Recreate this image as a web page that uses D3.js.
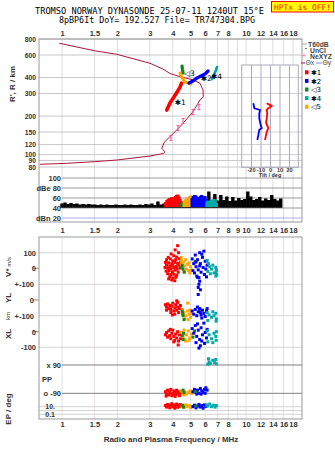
<!DOCTYPE html>
<html><head><meta charset="utf-8">
<script src="https://cdn.jsdelivr.net/npm/d3@7/dist/d3.min.js"></script>
<style>
body{margin:0;background:#fff;}
svg text{font-family:"Liberation Sans",Arial,sans-serif;}
</style></head>
<body><svg id="chart" width="335" height="451"></svg>
<script>
// ---------------- data ----------------
const titleLine1 = "TROMSO NORWAY   DYNASONDE 25-07-11 1240UT 15°E";
const titleLine2 = "8pBP6It DoY= 192.527 File= TR747304.BPG";
const statusText = "HPTx is OFF!";
const freqTicksTop = [1,1.5,2,3,4,5,6,7,8,10,12,14,16,18];
const freqTicksMid = [1,1.5,2,3,4,5,6,7,8,9,10,12,14,16,18];
const freqGrid = [1,1.5,2,3,4,5,6,7,8,9,10,12,14,16,18];
const heightTicks = [800,600,400,300,200,150,120,100,90,80];
const dbTicks = [100,80,60,40,20];
const tiltTicks = [-20,-10,0,10,20];
const modeNames = ["✱1","✱2","◁3","✱4","◁5"];
const modeColors = ["#ff0000","#0000ff","#15861c","#00a8a8","#ffa500"];
const legendNames = ["T60dB","UnCl","NeXYZ"];

// profile curve [MHz, km]
const profile = [[0.967,741],[1.498,648],[1.983,608],[3.008,517],[3.539,466],[3.864,430],[4.378,406],[5.171,383],[5.623,361],[5.838,320],[5.860,283],[5.623,267],[5.152,216],[4.378,165],[3.864,138],[3.583,124],[3.552,119],[3.482,112],[3.629,105],[3.552,102],[3.008,97.5],[1.983,90.7],[1.498,88],[1.061,85.5],[0.759,84]];
const neMarkers = [[5.55,235],[5.15,215],[4.55,183],[4.27,161],[3.91,135]];

// echo traces [MHz, km] per mode 1..5
const trace1 = [[3.71,223],[3.86,253],[4.06,282],[4.22,308],[4.38,337],[4.46,362]];
const trace2 = [[4.90,362],[5.15,376],[5.42,397],[5.69,411],[5.99,426],[6.22,450]];
const trace3 = [[4.49,492],[4.52,458],[4.55,434]];
const trace4 = [[6.53,389],[6.70,419],[6.87,458],[6.96,483]];
const trace5 = [[4.38,434],[4.49,397],[4.66,369],[5.02,356]];
const traceLabels = [[1,4.10,246],[2,5.68,378],[3,4.62,410],[4,6.46,389]];

// tilt [deg, km]
const tiltX = [[-18.1,252],[-17,230],[-11,223],[-11.8,210],[-11.8,191],[-10.3,170],[-9.3,161],[-11.8,156],[-12.8,142],[-13.9,130]];
const tiltO = [[-4,252],[-2.3,248],[1.3,240],[-2.3,230],[-4,223],[-3.4,210],[-4,191],[-4.7,178],[-2.3,161],[-4,150],[-4.7,142],[-5.8,130]];

// amplitude panel [MHz, dB]
const noise = [[1.000,49],[1.038,51],[1.078,48],[1.119,50],[1.162,48],[1.206,49],[1.252,47],[1.300,48],[1.350,47],[1.401,48],[1.455,47],[1.511,47],[1.568,46],[1.628,47],[1.691,46],[1.755,47],[1.822,46],[1.892,46],[1.964,47],[2.039,46],[2.117,46],[2.198,47],[2.282,46],[2.369,47],[2.460,46],[2.554,46],[2.651,47],[2.753,46],[2.858,48],[2.967,47],[3.081,49],[3.198,46],[3.321,53],[3.448,47],[3.579,49],[3.716,52],[3.858,50],[4.006,53],[4.159,51],[4.318,52],[4.482,50],[4.654,53],[4.831,51],[5.016,55],[5.208,52],[5.407,56],[5.613,54],[5.828,58],[6.050,55],[6.282,73],[6.522,56],[6.771,68],[7.029,55],[7.298,66],[7.577,56],[7.866,63],[8.167,54],[8.479,62],[8.803,55],[9.139,60],[9.488,56],[9.850,58],[10.23,73],[10.62,63],[11.02,56],[11.44,58],[11.88,62],[12.33,55],[12.80,59],[13.29,56],[13.80,66],[14.33,58],[14.88,55],[15.44,59]];
// echo amplitudes [mode, MHz, dB]
const echoAmp = [[1,3.66,52],[1,3.72,56],[1,3.78,58],[1,3.84,60],[1,3.90,57],[1,3.96,62],[1,4.02,60],[1,4.08,55],[1,4.14,64],[1,4.20,66],[1,4.26,67],[1,4.32,63],[1,4.38,58],[1,4.44,54],
 [3,4.47,50],[3,4.52,53],[3,4.57,51],
 [5,4.62,55],[5,4.68,57],[5,4.74,59],[5,4.80,60],[5,4.86,61],[5,4.92,63],[5,4.98,65],[5,5.04,62],
 [2,5.10,60],[2,5.18,64],[2,5.26,66],[2,5.34,65],[2,5.42,62],[2,5.50,58],[2,5.58,61],[2,5.66,64],[2,5.74,66],[2,5.82,63],[2,5.90,60],[2,5.98,64],[2,6.06,58],
 [4,6.14,52],[4,6.22,55],[4,6.30,50],[4,6.40,54],[4,6.50,57],[4,6.60,56],[4,6.70,58],[4,6.80,55],[4,6.90,50]];

// lower panels [mode, MHz, value]
const vStar = [[1,4.25,145],[1,4.12,118],[1,4.30,100],[1,3.92,92],[1,4.05,80],[1,3.78,70],[1,4.20,72],[1,3.70,55],[1,3.88,60],[1,4.00,48],[1,4.15,55],[1,4.35,62],[1,3.65,38],[1,3.80,35],[1,3.95,30],[1,4.10,38],[1,4.25,32],[1,4.40,40],[1,3.70,20],[1,3.85,15],[1,4.00,18],[1,4.18,12],[1,4.32,20],[1,3.63,5],[1,3.76,0],[1,3.90,-2],[1,4.05,4],[1,4.22,-5],[1,4.38,2],[1,3.68,-18],[1,3.82,-15],[1,3.98,-22],[1,4.12,-12],[1,4.28,-25],[1,3.75,-35],[1,3.90,-40],[1,4.05,-38],[1,4.20,-45],[1,3.85,-55],[1,4.00,-62],[1,4.15,-58],[1,3.95,-75],[1,4.10,-80],[1,3.80,-68],
 [5,4.45,70],[5,4.45,50],[5,4.45,30],[5,4.60,40],[5,4.70,55],[5,4.65,15],[5,4.80,25],[5,4.90,35],[5,5.00,10],[5,4.75,-5],[5,4.88,-15],[5,5.05,-10],[5,4.60,-20],[5,4.95,-30],
 [3,4.50,20],[3,4.55,-5],[3,4.48,5],[3,4.62,-25],[3,5.30,45],
 [2,5.10,60],[2,5.20,30],[2,5.30,85],[2,5.35,10],[2,5.45,55],[2,5.50,-10],[2,5.60,100],[2,5.65,30],[2,5.70,-25],[2,5.80,70],[2,5.85,5],[2,5.95,-40],[2,6.00,45],[2,6.05,-5],[2,6.15,20],[2,5.25,-30],[2,5.40,-50],[2,5.55,-60],[2,5.75,90],[2,6.10,-55],[2,5.90,110],[2,5.15,-15],[2,5.60,15],[2,5.35,40],
 [4,6.15,50],[4,6.25,30],[4,6.35,10],[4,6.50,-5],[4,6.20,-20],[4,6.40,-35],[4,6.60,20],[4,6.85,5],[4,6.90,-10],[4,6.88,-25],[4,6.92,-40],[4,6.86,-50],[4,6.70,-30]];
const yL = [[1,3.65,-30],[1,3.70,-45],[1,3.75,-25],[1,3.80,-55],[1,3.85,-35],[1,3.90,-60],[1,3.95,-40],[1,4.00,-20],[1,4.05,-70],[1,4.10,-50],[1,4.15,-30],[1,4.20,-65],[1,4.25,-45],[1,4.30,-80],[1,4.35,-55],[1,4.10,-90],[1,3.90,-80],[1,4.20,-5],[1,4.25,-15],[1,3.70,-65],[1,4.40,-35],[1,3.98,-95],
 [5,4.50,-60],[5,4.60,-80],[5,4.70,-100],[5,4.80,-70],[5,4.90,-90],[5,5.00,-110],[5,5.05,-85],[5,4.65,-120],[5,4.85,-125],[5,4.55,-95],[5,4.95,-65],[5,4.82,-20],
 [3,4.50,-70],[3,4.55,-100],[3,4.60,-125],[3,4.52,-85],[3,5.60,-60],
 [2,5.10,-70],[2,5.20,-90],[2,5.30,-60],[2,5.40,-100],[2,5.50,-75],[2,5.60,-55],[2,5.70,-95],[2,5.80,-65],[2,5.90,-85],[2,6.00,-105],[2,6.10,-70],[2,5.45,-45],[2,5.75,-115],[2,6.15,-55],[2,5.65,-80],
 [2,5.45,145],[2,5.60,120],[2,5.55,100],[2,5.50,80],[2,5.65,65],[2,5.50,35],
 [4,6.15,-80],[4,6.30,-95],[4,6.50,-110],[4,6.70,-100],[4,6.85,-85],[4,6.90,-120],[4,6.20,-130],[4,6.88,-135],[4,6.60,-75]];
const xL = [[1,3.65,-20],[1,3.70,-5],[1,3.75,-35],[1,3.80,5],[1,3.85,-25],[1,3.90,-45],[1,3.95,-10],[1,4.00,10],[1,4.05,-30],[1,4.10,-55],[1,4.15,-15],[1,4.20,-40],[1,4.25,0],[1,4.30,-60],[1,4.35,-20],[1,4.40,-45],[1,4.28,-85],[1,4.05,-65],[1,3.88,15],
 [5,4.45,-5],[5,4.55,-30],[5,4.65,-50],[5,4.75,-20],[5,4.85,5],[5,4.95,-40],[5,5.05,-15],[5,4.70,-60],[5,4.90,-55],[5,4.60,10],
 [3,4.50,-25],[3,4.55,-50],[3,4.58,-10],[3,5.15,-35],[3,5.25,5],
 [2,5.10,20],[2,5.20,-10],[2,5.30,40],[2,5.40,-30],[2,5.50,10],[2,5.60,-50],[2,5.70,25],[2,5.80,-20],[2,5.90,55],[2,6.00,-5],[2,6.10,-40],[2,5.35,-70],[2,5.65,-90],[2,5.95,-75],[2,5.45,50],[2,6.15,15],[2,5.55,-105],[2,5.75,-60],
 [4,6.15,5],[4,6.30,-20],[4,6.50,-45],[4,6.70,-10],[4,6.85,-30],[4,6.90,0],[4,6.20,-65],[4,6.88,-55],[4,6.60,-70]];
const pp = [[4,6.20,95],[4,6.30,110],[4,6.40,100],[4,6.60,120],[4,6.75,105],[4,6.85,125],[4,6.90,98],[4,6.25,130],
 [1,3.65,-80],[1,3.70,-95],[1,3.75,-70],[1,3.80,-100],[1,3.85,-85],[1,3.90,-65],[1,3.95,-105],[1,4.00,-90],[1,4.05,-75],[1,4.10,-100],[1,4.15,-85],[1,4.20,-70],[1,4.25,-95],[1,4.30,-80],[1,4.35,-105],[1,4.40,-88],[1,3.68,-108],[1,4.12,-110],
 [5,4.45,-75],[5,4.55,-90],[5,4.65,-80],[5,4.75,-95],[5,4.85,-85],[5,4.95,-75],[5,5.05,-90],[5,5.10,-80],[5,4.60,-100],
 [2,5.15,-80],[2,5.25,-65],[2,5.35,-85],[2,5.45,-70],[2,5.55,-90],[2,5.65,-60],[2,5.75,-75],[2,5.85,-85],[2,5.95,-65],[2,6.05,-55],[2,6.15,-70],[2,5.40,-95],[2,5.70,-95],[2,6.00,-90],
 [3,4.55,-70],[3,4.60,-85],[3,5.30,-80]];
const ep = [[1,3.65,20],[1,3.70,8],[1,3.75,40],[1,3.80,15],[1,3.85,5],[1,3.90,25],[1,3.95,60],[1,4.00,10],[1,4.05,30],[1,4.10,4],[1,4.15,18],[1,4.20,50],[1,4.25,7],[1,4.30,25],[1,4.35,12],[1,4.40,35],
 [5,4.50,15],[5,4.60,6],[5,4.70,30],[5,4.80,10],[5,4.90,20],[5,5.00,5],[5,5.08,12],
 [2,5.15,10],[2,5.25,25],[2,5.35,5],[2,5.45,15],[2,5.55,40],[2,5.65,8],[2,5.75,20],[2,5.85,4],[2,5.95,30],[2,6.05,12],
 [4,6.10,30],[4,6.20,15],[4,6.35,50],[4,6.50,10],[4,6.65,25],[4,6.80,8],[4,6.90,20],
 [3,4.52,25],[3,4.58,8],[3,5.35,15]];

// ---------------- drawing ----------------
const svg = d3.select("#chart");
svg.append("rect").attr("width",335).attr("height",451).attr("fill","#fff");
const L=39, R=302, T0=39, T1=222, B0=237, B1=419;

const x = d3.scaleLog().domain([1,10]).range([62,246]);
const yH = d3.scaleLog().domain([80,800]).range([167,39]);
const yDb = d3.scaleLinear().domain([20,100]).range([218,178]);
const yV = d3.scaleLinear().domain([-100,100]).range([283.9,252.7]);
const yYL = d3.scaleLinear().domain([-100,100]).range([315.7,284.3]);
const yXL = d3.scaleLinear().domain([-100,100]).range([347.3,316.1]);
const yPP = d3.scaleLinear().domain([-90,90]).range([393.3,365]);
const yEP = d3.scaleLog().domain([0.1,10]).range([414.3,406.7]);
const xT = d3.scaleLinear().domain([-20,20]).range([251.5,289.5]);
const col = m => modeColors[m-1];

// title
svg.append("text").attr("x",149.5).attr("y",14).attr("text-anchor","middle")
  .style("font-family","DejaVu Sans Mono").style("font-size","8px").attr("fill","#000")
  .attr("textLength",229).attr("lengthAdjust","spacingAndGlyphs").text(titleLine1);
svg.append("text").attr("x",157).attr("y",22.8).attr("text-anchor","middle")
  .style("font-family","DejaVu Sans Mono").style("font-size","8px").attr("fill","#000")
  .attr("textLength",196).attr("lengthAdjust","spacingAndGlyphs").text(titleLine2);
svg.append("rect").attr("x",271.5).attr("y",1.5).attr("width",62).attr("height",10.5)
  .attr("fill","#ffff00").attr("stroke","#ff0000");
svg.append("text").attr("x",302.5).attr("y",9.6).attr("text-anchor","middle")
  .style("font-family","DejaVu Sans Mono").style("font-size","7.6px").attr("fill","#ff0000")
  .attr("textLength",57).attr("lengthAdjust","spacingAndGlyphs").text(statusText);

// grids top
const gTop = svg.append("g");
gTop.selectAll(".vg").data(freqGrid).join("line")
  .attr("x1",d=>x(d)).attr("x2",d=>x(d)).attr("y1",T0).attr("y2",T1)
  .attr("stroke","#dcdcdc");
gTop.selectAll(".hg").data(heightTicks).join("line")
  .attr("x1",L).attr("x2",R).attr("y1",d=>yH(d)).attr("y2",d=>yH(d)).attr("stroke","#c8c8c8");
gTop.selectAll(".dg").data(dbTicks).join("line")
  .attr("x1",x(1)).attr("x2",R).attr("y1",d=>yDb(d)).attr("y2",d=>yDb(d))
  .attr("stroke",d=>d===20?"#aab0dd":"#9a9a9a");

// grids bottom
const gLow = svg.append("g");
gLow.selectAll("line.v").data(freqGrid).join("line")
  .attr("x1",d=>x(d)).attr("x2",d=>x(d)).attr("y1",B0).attr("y2",B1).attr("stroke","#e4dfe4");
const lowH = [[yV,100],[yYL,100],[yYL,-100],[yXL,-100],[yEP,10],[yEP,1],[yEP,0.1]];
lowH.forEach(([s,v])=>gLow.append("line").attr("x1",L).attr("x2",R).attr("y1",s(v)).attr("y2",s(v)).attr("stroke","#d4d4d4"));
[[yV,0],[yYL,0],[yXL,0]].forEach(([s,v])=>gLow.append("line").attr("x1",33).attr("x2",L).attr("y1",s(v)).attr("y2",s(v)).attr("stroke","#888"));
[yPP(90),yPP(-90)].forEach(v=>gLow.append("line").attr("x1",x(1)).attr("x2",R).attr("y1",v).attr("y2",v).attr("stroke","#808080"));

// frames
svg.append("rect").attr("x",L).attr("y",T0).attr("width",R-L).attr("height",T1-T0).attr("fill","none").attr("stroke","#999");
svg.append("rect").attr("x",L).attr("y",B0).attr("width",R-L).attr("height",B1-B0).attr("fill","none").attr("stroke","#999");

// axes
function styleAxis(sel,fs){ sel.select(".domain").remove(); sel.selectAll("line").remove();
  sel.selectAll("text").style("font-size",fs||"7.5px").style("font-weight","bold").attr("fill","#333"); }
svg.append("g").attr("transform",`translate(0,${T0})`)
  .call(d3.axisTop(x).tickValues(freqTicksTop).tickFormat(d=>d).tickSize(0).tickPadding(3.5)).call(styleAxis);
svg.append("g").attr("transform",`translate(0,${T1})`)
  .call(d3.axisBottom(x).tickValues(freqTicksMid).tickFormat(d=>d).tickSize(0).tickPadding(5.5)).call(styleAxis);
svg.append("g").attr("transform",`translate(0,${B1})`)
  .call(d3.axisBottom(x).tickValues(freqTicksTop).tickFormat(d=>d).tickSize(0).tickPadding(3)).call(styleAxis);
svg.append("g").attr("transform",`translate(${L},0)`)
  .call(d3.axisLeft(yH).tickValues(heightTicks).tickFormat(d=>d).tickSize(0).tickPadding(3)).call(styleAxis,"6.8px");
svg.append("g").attr("transform",`translate(${x(1)},0)`)
  .call(d3.axisLeft(yDb).tickValues(dbTicks).tickFormat(d=>d===80?"dBe 80":d===20?"dBn 20":d).tickSize(0).tickPadding(1)).call(styleAxis);
svg.append("g").attr("transform",`translate(${L},0)`)
  .call(d3.axisLeft(yV).tickValues([100,0]).tickFormat(d=>d).tickSize(0).tickPadding(3)).call(styleAxis);
svg.append("g").attr("transform",`translate(${L-5},0)`)
  .call(d3.axisLeft(yYL).tickValues([100,0,-100]).tickFormat(d=>d===0?"0":"+-100").tickSize(0).tickPadding(0)).call(styleAxis);
svg.append("g").attr("transform",`translate(${L-3},0)`)
  .call(d3.axisLeft(yXL).tickValues([0,-100]).tickFormat(d=>d).tickSize(0).tickPadding(0)).call(styleAxis);
svg.append("g").attr("transform",`translate(62,0)`)
  .call(d3.axisLeft(yPP).tickValues([90,-90]).tickFormat(d=>d>0?"x  "+d:"o  "+d).tickSize(0).tickPadding(1)).call(styleAxis);
svg.append("g").attr("transform",`translate(55,0)`)
  .call(d3.axisLeft(yEP).tickValues([10,0.1]).tickFormat(d=>d===10?"10.":"0.1").tickSize(0).tickPadding(0)).call(styleAxis,"7px");
svg.append("text").attr("x",42).attr("y",382).style("font-size","7.5px").style("font-weight","bold").attr("fill","#333").text("PP");

// rotated labels
function vlabel(xp,yp,parts){ const t=svg.append("text").attr("transform",`translate(${xp},${yp}) rotate(-90)`)
  .attr("text-anchor","middle").attr("fill","#333");
  parts.forEach(([s,sz,w])=>t.append("tspan").style("font-size",sz).style("font-weight",w).text(s)); }
vlabel(15,84,[["R', R / km","8px","bold"]]);
vlabel(10.5,267,[["V*","8px","bold"],["  m/s","6px","normal"]]);
vlabel(10.5,298,[["YL","8px","bold"]]);
vlabel(10,316,[["km","6px","normal"]]);
vlabel(10.5,334,[["XL","8px","bold"]]);
vlabel(10.5,409,[["EP / deg","8px","bold"]]);
svg.append("text").attr("x",171).attr("y",442).attr("text-anchor","middle").style("font-size","8px").style("font-weight","bold").attr("fill","#333")
  .text("Radio and Plasma Frequency / MHz");

// inset tilt panel
const inset = svg.append("g");
inset.append("rect").attr("x",241.7).attr("y",65).attr("width",56.6).attr("height",102.3).attr("fill","#fff");
inset.selectAll("line.h").data(heightTicks.filter(h=>h<=400)).join("line")
  .attr("x1",241.7).attr("x2",298.3).attr("y1",d=>yH(d)).attr("y2",d=>yH(d)).attr("stroke","#d0d0d0");
inset.selectAll("line.t").data(tiltTicks).join("line")
  .attr("x1",d=>xT(d)).attr("x2",d=>xT(d)).attr("y1",65).attr("y2",167.3).attr("stroke","#aab");
inset.append("rect").attr("x",241.7).attr("y",65).attr("width",56.6).attr("height",102.3).attr("fill","none").attr("stroke","#aab");
inset.selectAll("text.t").data(tiltTicks).join("text").attr("x",d=>xT(d)).attr("y",172).attr("text-anchor","middle")
  .style("font-size","5.5px").style("font-weight","bold").attr("fill","#333").text(d=>d);
inset.append("text").attr("x",270).attr("y",177.3).attr("text-anchor","middle").style("font-size","5.5px").style("font-weight","bold").attr("fill","#333").text("Tilt / deg");
const tl = d3.line().x(d=>xT(d[0])).y(d=>yH(d[1]));
inset.append("path").attr("d",tl(tiltX)).attr("fill","none").attr("stroke","#0000ff").attr("stroke-width",1.8);
inset.append("path").attr("d",tl(tiltO)).attr("fill","none").attr("stroke","#ff0000").attr("stroke-width",1.8);

// amplitude bars
svg.selectAll("rect.noise").data(noise).join("rect")
  .attr("x",d=>x(d[0])-1.7).attr("width",3.4).attr("y",d=>yDb(d[1])).attr("height",d=>yDb(40.5)-yDb(d[1])).attr("fill","#000");
svg.selectAll("rect.amp").data(echoAmp).join("rect")
  .attr("x",d=>x(d[1])-1.7).attr("width",3.4).attr("y",d=>yDb(d[2])).attr("height",d=>yDb(42)-yDb(d[2])).attr("fill",d=>col(d[0]));

// profile curve
const lH = d3.line().x(d=>x(d[0])).y(d=>yH(d[1]));
svg.append("path").attr("d",lH(profile)).attr("fill","none").attr("stroke","#b0143c").attr("stroke-width",1);
const mk = svg.append("g").attr("stroke","#f0509a").attr("stroke-width",1);
neMarkers.forEach(d=>{const cx=x(d[0]),cy=yH(d[1]);
  mk.append("line").attr("x1",cx).attr("x2",cx).attr("y1",cy-2.5).attr("y2",cy+2.5);
  mk.append("line").attr("x1",cx-1.5).attr("x2",cx+1.5).attr("y1",cy-2.5).attr("y2",cy-2.5);
  mk.append("line").attr("x1",cx-1.5).attr("x2",cx+1.5).attr("y1",cy+2.5).attr("y2",cy+2.5);});

// echo traces
[[trace1,1,3.6],[trace5,5,3],[trace3,3,3.2],[trace2,2,3.3],[trace4,4,2.6]].forEach(([t,m,w])=>{
  svg.append("path").attr("d",lH(t)).attr("fill","none").attr("stroke",col(m)).attr("stroke-width",w)
    .attr("stroke-linecap","round").attr("stroke-linejoin","round");});
svg.selectAll("text.tl").data(traceLabels).join("text").attr("x",d=>x(d[1])).attr("y",d=>yH(d[2]))
  .style("font-family","DejaVu Sans").style("font-size","7.5px").attr("fill","#000").text(d=>modeNames[d[0]-1]);

// legend
const lg = svg.append("g");
lg.append("line").attr("x1",302).attr("x2",307).attr("y1",44).attr("y2",44).attr("stroke","#aaa");
lg.append("rect").attr("x",305.5).attr("y",48).attr("width",1).attr("height",1).attr("fill","#000");
lg.append("text").attr("x",304).attr("y",58).attr("text-anchor","middle").style("font-size","7px").attr("fill","#f0509a").text("+");
legendNames.forEach((n,i)=>lg.append("text").attr("x",i===0?308:310).attr("y",46.5+i*6.3).style("font-size","6.8px").style("font-weight","bold").attr("fill","#444").text(n));
lg.append("line").attr("x1",301).attr("x2",305).attr("y1",63).attr("y2",63).attr("stroke","#b0143c");
lg.append("text").attr("x",305.5).attr("y",65.3).style("font-size","6.8px").attr("fill","#444").text("Θx");
lg.append("line").attr("x1",316).attr("x2",322).attr("y1",63).attr("y2",63).attr("stroke","#8080ff");
lg.append("text").attr("x",322.5).attr("y",65.3).style("font-size","6.8px").attr("fill","#444").text("Θy");
modeNames.forEach((n,i)=>{const yy=72.3+i*8.6;
  lg.append("rect").attr("x",305).attr("y",yy-2).attr("width",3.5).attr("height",4).attr("fill",modeColors[i]);
  lg.append("text").attr("x",311).attr("y",yy+2.7).style("font-family","DejaVu Sans").style("font-size","7px").attr("fill","#000").text(n);});

// lower panel scatter
function pts(data,s){ svg.append("g").selectAll("rect").data(data).join("rect")
  .attr("x",d=>x(d[1])-1.5).attr("y",d=>s(d[2])-1.5).attr("width",3).attr("height",3).attr("fill",d=>col(d[0])); }
pts(vStar,yV); pts(yL,yYL); pts(xL,yXL); pts(pp,yPP); pts(ep,yEP);
</script></body></html>
